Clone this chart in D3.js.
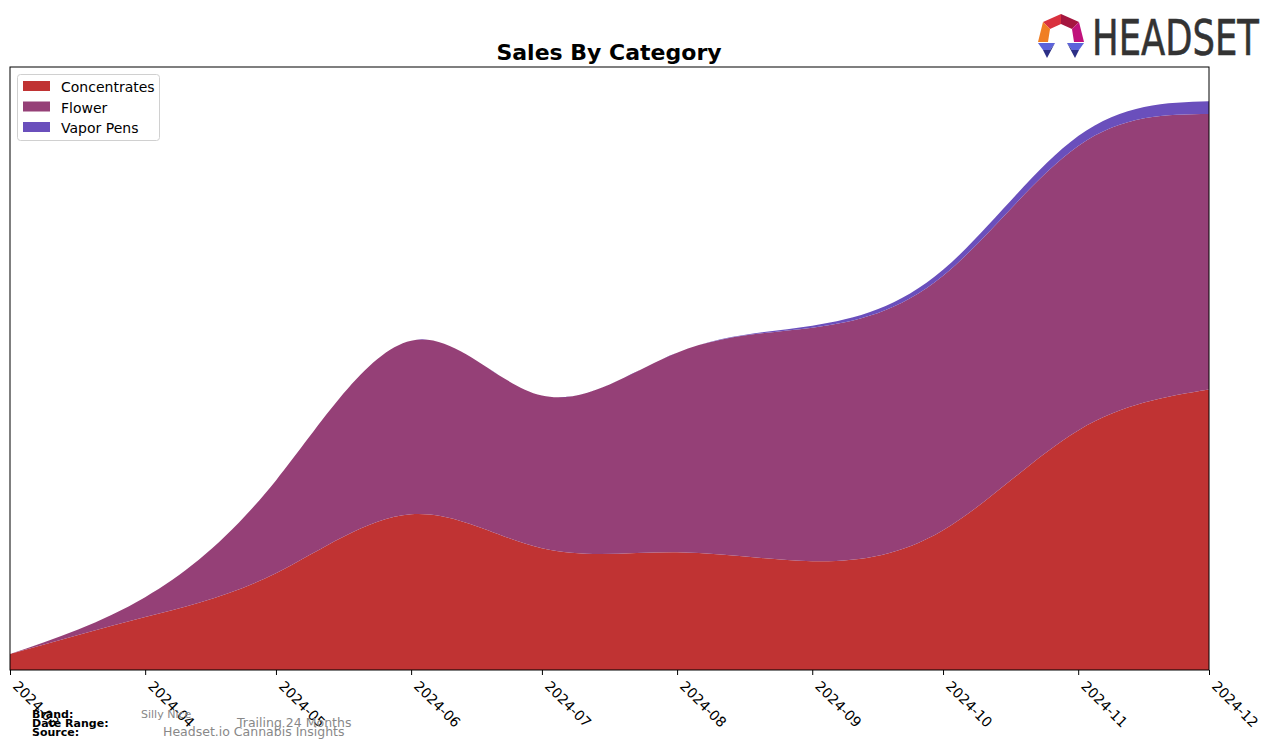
<!DOCTYPE html>
<html>
<head>
<meta charset="utf-8">
<script src="https://cdn.jsdelivr.net/npm/d3@7"></script>
<style>
  html, body { margin: 0; padding: 0; background: #fff; }
  svg { display: block; }
</style>
</head>
<body>
<svg id="chart" width="1276" height="748"></svg>
<script>
// ---- data ----
const months = ["2024-03","2024-04","2024-05","2024-06","2024-07","2024-08","2024-09","2024-10","2024-11","2024-12"];
const categories = ["Concentrates","Flower","Vapor Pens"];
const concentrates = [16, 53, 97, 156, 122, 118, 109, 140, 240, 281];
const flower       = [0, 20, 93, 174, 153, 200, 234, 255, 285, 276];
const vaporPens    = [0, 0, 0, 0, 0, 0, 2, 6, 10, 13];
const colors = ["#C03333", "#954077", "#6A4FBC"];
const title = "Sales By Category";
const brand = "Silly Nice";
const dateRange = "Trailing 24 Months";
const source = "Headset.io Cannabis Insights";

// ---- layout ----
const svg = d3.select("#chart");
const mLeft = 10, mRight = 1209, mTop = 67, mBottom = 670;
const parse = d3.timeParse("%Y-%m");
const rows = months.map((m, i) => ({
  date: parse(m),
  "Concentrates": concentrates[i],
  "Flower": flower[i],
  "Vapor Pens": vaporPens[i]
}));

const x = d3.scaleTime()
  .domain(d3.extent(rows, d => d.date))
  .range([mLeft, mRight]);
const totals = rows.map(r => categories.reduce((s, c) => s + r[c], 0));
const y = d3.scaleLinear()
  .domain([0, d3.max(totals) * 1.06])
  .range([mBottom, mTop]);

const stack = d3.stack().keys(categories);
const series = stack(rows);

const area = d3.area()
  .curve(d3.curveNatural)
  .x(d => x(d.data.date))
  .y0(d => y(d[0]))
  .y1(d => y(d[1]));

svg.append("clipPath").attr("id", "clip")
  .append("rect").attr("x", mLeft).attr("y", mTop)
  .attr("width", mRight - mLeft).attr("height", mBottom - mTop);

svg.append("g").attr("clip-path", "url(#clip)")
  .selectAll("path")
  .data(series)
  .join("path")
  .attr("d", area)
  .attr("fill", (d, i) => colors[i]);

// frame
svg.append("rect")
  .attr("x", mLeft).attr("y", mTop)
  .attr("width", mRight - mLeft).attr("height", mBottom - mTop)
  .attr("fill", "none").attr("stroke", "#000").attr("stroke-width", 1);

// x axis
const xAxis = d3.axisBottom(x)
  .tickValues(rows.map(r => r.date))
  .tickFormat(d3.timeFormat("%Y-%m"))
  .tickSize(5)
  .tickPadding(0);
const gx = svg.append("g").attr("transform", `translate(0,${mBottom})`).call(xAxis);
gx.select(".domain").remove();
gx.selectAll(".tick line").attr("stroke", "#000");
gx.selectAll(".tick text")
  .attr("font-family", "DejaVu Sans")
  .attr("font-size", 14)
  .attr("fill", "#000")
  .attr("text-anchor", "start")
  .attr("dy", null)
  .attr("y", null)
  .attr("transform", "translate(1.5,17) rotate(45)");

// title
svg.append("text")
  .attr("x", 609).attr("y", 60)
  .attr("text-anchor", "middle")
  .attr("font-family", "DejaVu Sans")
  .attr("font-weight", "bold")
  .attr("font-size", 22)
  .text(title);

// legend
const lg = svg.append("g");
lg.append("rect")
  .attr("x", 17.5).attr("y", 74.5).attr("width", 142).attr("height", 66)
  .attr("rx", 3).attr("fill", "#fff").attr("fill-opacity", 0.8)
  .attr("stroke", "#d0d0d0");
categories.forEach((c, i) => {
  lg.append("rect").attr("x", 23).attr("y", 81 + i * 20.5)
    .attr("width", 27).attr("height", 10).attr("fill", colors[i]);
  lg.append("text").attr("x", 61).attr("y", 92 + i * 20.5)
    .attr("font-family", "DejaVu Sans").attr("font-size", 14)
    .text(c);
});

// footer
const ft = svg.append("g").attr("font-family", "DejaVu Sans");
[["Brand:", 718], ["Date Range:", 727], ["Source:", 736]].forEach(([t, yy]) => {
  ft.append("text").attr("x", 32).attr("y", yy)
    .attr("font-weight", "bold").attr("font-size", 11).text(t);
});
ft.append("text").attr("x", 141).attr("y", 718).attr("font-size", 11).attr("fill", "#888").text(brand);
ft.append("text").attr("x", 237).attr("y", 727).attr("font-size", 12.5).attr("fill", "#888").text(dateRange);
ft.append("text").attr("x", 163).attr("y", 736).attr("font-size", 12.5).attr("fill", "#888").text(source);

// logo
const logo = svg.append("g");
const polys = [
  {p: [[1043,22],[1061,14],[1061,24],[1050,29]], c: "#d9313f"},
  {p: [[1061,14],[1079,22],[1072,29],[1061,24]], c: "#a5163f"},
  {p: [[1043,22],[1050,29],[1048,42],[1038,42]], c: "#f07e23"},
  {p: [[1079,22],[1084,42],[1074,42],[1072,29]], c: "#c0127b"},
  {p: [[1038,43],[1055,43],[1050,50],[1043,50]], c: "#5c63db"},
  {p: [[1043,50],[1050,50],[1055,43],[1047,58]], c: "#2c2f86"},
  {p: [[1067,43],[1084,43],[1079,50],[1072,50]], c: "#5c63db"},
  {p: [[1067,43],[1072,50],[1079,50],[1075,58]], c: "#2c2f86"}
];
logo.selectAll("polygon").data(polys).join("polygon")
  .attr("points", d => d.p.map(q => q.join(",")).join(" "))
  .attr("fill", d => d.c);
logo.append("text")
  .attr("x", 1092).attr("y", 55)
  .attr("font-family", "DejaVu Sans")
  .attr("font-size", 50)
  .attr("fill", "#333")
  .attr("stroke", "#333")
  .attr("stroke-width", 0.6)
  .attr("textLength", 167)
  .attr("lengthAdjust", "spacingAndGlyphs")
  .text("HEADSET");
</script>
</body>
</html>
